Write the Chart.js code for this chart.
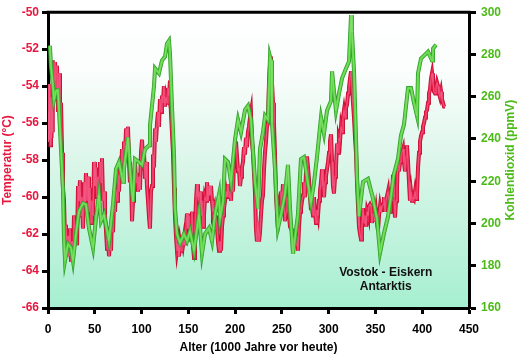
<!DOCTYPE html>
<html><head><meta charset="utf-8">
<script src="https://cdn.jsdelivr.net/npm/chart.js@4.4.1/dist/chart.umd.min.js"></script>
<style>html,body{margin:0;padding:0;background:#fff}#wrap{width:518px;height:355px}</style>
</head><body><div id="wrap"><canvas id="c" width="518" height="355"></canvas></div>
<script>
// Temperature (°C) vs age (ka)
const tempAge = [0.0,0.5,1.1,1.6,2.1,2.7,3.2,3.7,4.3,4.8,5.3,6.4,7.5,8.6,9.6,10.7,11.8,12.8,13.9,15.0,16.0,17.1,18.2,19.2,20.3,21.4,22.4,23.5,24.6,25.7,26.7,27.8,28.9,29.9,31.0,32.1,33.1,34.2,35.3,36.3,37.4,38.5,39.5,40.6,41.7,42.8,43.8,44.9,46.0,47.0,48.1,49.2,50.2,51.3,52.4,53.4,54.5,55.6,56.7,57.7,58.8,59.9,60.9,62.0,63.1,64.1,65.2,66.3,67.3,68.4,69.5,70.6,71.6,72.7,73.8,74.8,75.9,77.0,78.0,79.1,80.2,81.2,82.3,83.4,84.4,85.5,86.6,87.6,88.7,89.8,90.9,91.9,93.0,94.1,95.1,96.2,97.3,98.3,99.4,100.5,101.6,102.6,103.7,104.8,105.8,106.9,108.0,109.0,110.1,111.2,112.2,113.3,114.4,115.4,116.5,117.6,118.6,119.7,120.8,121.8,122.9,123.9,125.0,126.1,127.2,128.2,129.3,130.4,131.4,132.5,133.6,134.7,135.7,136.8,137.9,139.0,140.0,141.1,142.2,143.2,144.3,145.4,146.4,147.5,148.6,149.6,150.7,151.8,152.9,153.9,155.0,156.1,157.1,158.2,159.3,160.3,161.4,162.5,163.5,164.6,165.7,166.7,167.8,168.9,169.9,171.0,172.1,173.1,174.2,175.3,176.3,177.4,178.5,179.5,180.6,181.7,182.8,183.8,184.9,186.0,187.1,188.1,189.2,190.3,191.3,192.4,193.5,194.5,195.6,196.7,197.7,198.8,199.9,200.9,202.0,203.1,204.1,205.2,206.3,207.3,208.4,209.5,210.5,211.6,212.7,213.7,214.8,215.9,216.9,218.0,219.1,220.1,221.2,222.3,223.3,224.4,225.5,226.6,227.6,228.7,229.8,230.8,231.9,233.0,234.0,235.1,236.2,237.3,238.3,239.4,240.5,241.5,242.6,243.7,244.7,245.8,246.9,248.0,249.0,250.1,251.2,252.2,253.3,254.4,255.4,256.5,257.6,258.7,259.7,260.8,261.9,262.9,264.0,265.1,266.1,267.2,268.3,269.4,270.4,271.5,272.6,273.6,274.7,275.8,276.8,277.9,279.0,280.1,281.1,282.2,283.3,284.3,285.4,286.5,287.5,288.6,289.7,290.7,291.8,292.9,293.9,295.0,296.1,297.1,298.2,299.3,300.4,301.4,302.5,303.6,304.6,305.7,306.8,307.8,308.9,310.0,311.0,312.1,313.2,314.3,315.3,316.4,317.5,318.5,319.6,320.7,321.7,322.8,323.9,325.0,326.0,327.1,328.2,329.2,330.3,331.4,332.4,333.5,334.6,335.6,336.7,337.8,338.8,339.9,341.0,342.0,343.1,344.2,345.2,346.3,347.4,348.5,349.5,350.6,351.7,352.7,353.8,354.9,355.9,357.0,358.1,359.1,360.2,361.3,362.3,363.4,364.5,365.6,366.6,367.7,368.8,369.8,370.9,372.0,373.0,374.1,375.2,376.3,377.3,378.4,379.5,380.5,381.6,382.7,383.7,384.8,385.9,386.9,388.0,389.1,390.1,391.2,392.3,393.4,394.4,395.5,396.6,397.6,398.7,399.8,400.8,401.9,403.0,404.0,405.1,406.2,407.2,408.3,409.4,410.5,411.5,412.6,413.7,414.7,415.8,416.9,417.9,419.0,420.1,421.1,422.2,423.3,424.4];
const tempVal = [-55.4,-57.0,-53.9,-56.9,-54.3,-57.2,-54.6,-56.8,-54.9,-56.5,-52.6,-54.4,-52.7,-54.6,-52.9,-55.4,-53.3,-56.0,-54.9,-57.6,-59.5,-60.2,-62.4,-61.5,-62.9,-62.1,-63.2,-61.7,-63.5,-62.4,-63.3,-61.0,-62.4,-61.6,-62.6,-59.4,-60.2,-59.1,-61.0,-60.0,-61.7,-59.2,-60.5,-58.7,-60.2,-58.9,-60.8,-59.5,-61.4,-60.2,-61.0,-58.1,-59.4,-58.4,-60.0,-58.9,-60.2,-58.1,-59.2,-57.9,-60.2,-59.7,-61.0,-61.8,-62.8,-62.1,-63.2,-62.4,-62.9,-61.1,-61.9,-60.2,-60.8,-59.6,-60.2,-58.8,-59.7,-58.1,-58.9,-57.4,-58.4,-57.0,-57.8,-56.3,-57.6,-56.2,-58.1,-59.2,-58.6,-61.3,-60.2,-58.9,-58.1,-59.2,-58.7,-59.7,-58.9,-59.6,-57.6,-56.9,-58.1,-57.6,-59.0,-58.1,-59.4,-60.2,-61.1,-61.7,-59.7,-59.4,-57.7,-58.4,-56.3,-57.0,-56.0,-55.4,-56.2,-54.7,-55.4,-54.5,-54.9,-54.0,-55.1,-54.6,-54.9,-54.1,-54.5,-53.7,-55.4,-56.5,-57.6,-59.5,-61.0,-62.1,-62.9,-62.5,-63.2,-62.5,-62.9,-62.3,-62.6,-62.2,-62.6,-61.6,-60.9,-61.7,-61.0,-62.4,-61.6,-60.8,-62.6,-63.3,-61.8,-60.2,-59.3,-60.0,-60.2,-59.7,-61.0,-60.2,-61.6,-61.0,-60.0,-60.2,-59.2,-60.2,-59.4,-59.9,-59.4,-60.2,-60.8,-60.6,-61.8,-61.0,-61.6,-62.4,-62.9,-62.4,-62.9,-61.6,-61.0,-60.6,-60.2,-59.7,-60.0,-59.3,-60.0,-59.7,-60.2,-58.9,-59.7,-58.1,-57.3,-57.0,-57.8,-58.6,-58.4,-59.4,-58.9,-58.4,-58.1,-57.3,-57.7,-56.8,-57.3,-56.5,-56.2,-55.7,-55.4,-57.0,-57.6,-58.6,-59.7,-61.7,-62.4,-61.3,-62.4,-61.9,-61.0,-60.2,-59.9,-58.6,-57.6,-57.0,-56.2,-56.0,-53.8,-52.8,-52.4,-53.8,-54.9,-56.0,-57.6,-59.9,-60.8,-60.5,-61.0,-60.5,-59.7,-60.2,-59.3,-60.2,-61.3,-60.8,-60.0,-60.2,-61.0,-61.6,-61.7,-61.8,-62.3,-61.8,-62.4,-62.6,-62.1,-62.9,-61.6,-60.8,-60.6,-60.2,-59.9,-59.2,-60.0,-58.6,-57.8,-58.4,-59.1,-60.0,-60.7,-60.2,-61.0,-60.0,-60.8,-61.4,-60.7,-61.0,-60.2,-59.7,-59.2,-58.5,-59.4,-60.0,-59.2,-58.9,-58.5,-58.1,-57.6,-57.0,-56.6,-58.1,-59.4,-59.8,-58.9,-58.4,-57.1,-57.6,-56.8,-57.0,-56.2,-56.5,-55.7,-55.3,-55.7,-55.2,-55.0,-54.4,-54.1,-53.6,-53.2,-54.1,-54.9,-55.7,-56.8,-57.6,-59.2,-60.5,-61.6,-62.0,-62.3,-61.6,-60.6,-61.4,-61.0,-61.6,-60.8,-61.0,-60.5,-60.4,-60.5,-61.4,-60.9,-61.0,-61.3,-60.8,-61.4,-61.8,-61.0,-60.5,-60.8,-60.5,-60.4,-60.0,-60.8,-60.2,-60.2,-59.7,-60.5,-60.8,-59.5,-60.2,-58.8,-60.0,-61.1,-60.2,-59.5,-57.9,-58.6,-58.1,-57.8,-57.6,-57.4,-58.1,-58.6,-57.8,-57.2,-58.1,-59.2,-60.2,-59.7,-60.2,-60.0,-60.1,-59.7,-60.1,-59.9,-58.4,-57.6,-57.0,-56.7,-56.5,-56.2,-56.0,-55.7,-55.4,-55.3,-54.9,-54.4,-54.2,-53.6,-53.3,-53.8,-54.3,-54.4,-54.1,-53.8,-54.0,-54.4,-54.6,-54.3,-54.7,-54.9,-55.1,-55.1];

// CO2 (ppmV) vs age (ka)
const co2Age = [1.1,2.1,3.2,5.3,6.4,8.6,10.7,11.8,13.9,16.0,17.1,18.2,21.4,24.6,26.7,29.9,33.1,37.4,40.6,43.8,48.1,51.3,54.5,56.7,59.9,65.2,69.5,72.7,75.9,80.2,81.2,85.5,88.7,90.9,93.0,97.3,100.5,103.7,108.0,109.0,113.3,114.4,118.6,121.8,125.1,127.2,129.3,130.4,132.5,134.7,135.8,137.9,141.1,145.4,148.6,151.8,156.1,161.4,164.6,167.8,172.1,175.3,178.5,182.8,183.9,187.1,189.2,192.4,195.6,199.9,203.1,206.3,210.6,213.8,217.0,221.3,224.5,226.6,229.8,232.0,235.2,237.3,238.4,239.4,242.6,245.8,249.1,253.3,256.5,258.7,261.9,267.2,270.4,273.6,276.8,281.1,284.3,287.5,291.8,295.0,298.2,302.5,303.6,307.8,311.0,314.3,318.5,321.7,323.9,324.9,327.1,329.2,330.3,332.4,336.7,342.0,347.4,351.7,354.9,359.2,363.5,366.6,369.8,374.1,377.3,380.5,384.8,388.0,391.2,394.4,395.5,398.7,403.0,406.2,410.5,411.5,414.7];
const co2Val = [282.7,284.1,274.3,265.0,258.5,262.7,263.1,253.8,235.1,216.5,193.1,182.4,190.3,188.5,182.4,195.0,205.7,209.5,209.0,197.8,188.5,202.5,213.7,201.1,204.3,191.7,209.0,225.8,229.1,219.7,225.8,240.7,219.7,210.4,230.5,229.1,227.7,235.1,237.0,246.3,265.0,273.4,271.1,277.1,279.0,285.1,286.5,280.4,255.7,232.3,207.1,195.0,190.8,195.0,191.7,196.4,187.1,204.3,185.7,195.0,197.8,191.7,204.3,213.7,202.5,210.4,230.5,229.1,219.7,239.8,249.1,243.1,253.8,255.7,249.1,219.7,207.1,235.1,243.1,251.0,249.1,279.0,277.1,247.7,225.8,197.8,204.3,213.7,227.7,207.1,185.7,204.3,230.5,231.4,222.1,209.9,219.3,231.4,250.1,242.6,253.3,258.0,272.0,253.3,261.3,268.7,273.4,276.7,298.6,290.7,272.0,240.7,222.1,203.4,219.7,221.1,211.8,202.0,186.1,195.5,203.4,212.7,223.5,230.5,241.7,246.8,264.1,264.1,257.1,251.0,271.1,278.1,279.9,281.3,277.1,282.7,284.6];

const xTickValues = [0,50,100,150,200,250,300,350,400,450];
const tempTickValues = [-66,-64,-62,-60,-58,-56,-54,-52,-50];
const co2TickValues = [160,180,200,220,240,260,280,300];
const labelLines = ['Vostok - Eiskern','Antarktis'];

const pts = (a, v) => a.map((x, i) => ({x, y: v[i]}));
const FONT = 'Liberation Sans, Arial, Helvetica, sans-serif';
const RED = '#e8173f', GREEN = '#4cbb17';

function layer(data, axis, color, width, order) {
  return {data, yAxisID: axis, borderColor: color, borderWidth: width, pointRadius: 0,
    tension: 0, fill: false, order, borderJoinStyle: 'miter', borderCapStyle: 'butt'};
}
const tData = pts(tempAge, tempVal), cData = pts(co2Age, co2Val);

const bgPlugin = {
  id: 'bg',
  beforeDraw(chart) {
    const {ctx, chartArea: a} = chart;
    const g = ctx.createLinearGradient(0, a.top, 0, a.bottom);
    g.addColorStop(0, '#ffffff');
    g.addColorStop(0.22, '#f9fdfb');
    g.addColorStop(0.5, '#dcf6ea');
    g.addColorStop(1, '#a6efd0');
    ctx.save(); ctx.fillStyle = g; ctx.fillRect(a.left, a.top, a.right - a.left, a.bottom - a.top); ctx.restore();
  },
  afterDraw(chart) {
    const {ctx, chartArea: a, scales} = chart;
    ctx.save();
    ctx.strokeStyle = '#000'; ctx.lineWidth = 3;
    ctx.beginPath(); ctx.moveTo(a.left - 1.5, a.top); ctx.lineTo(a.right + 1.5, a.top); ctx.stroke();
    ctx.fillStyle = GREEN; ctx.font = 'bold 12px ' + FONT;
    ctx.textAlign = 'center'; ctx.textBaseline = 'middle';
    ctx.translate(chart.width - 7.5, (a.top + a.bottom) / 2);
    ctx.rotate(-Math.PI / 2);
    ctx.fillText('Kohlendioxid (ppmV)', 0, 0);
    ctx.restore();
    ctx.save();
    ctx.fillStyle = '#111'; ctx.font = 'bold 12px ' + FONT; ctx.textAlign = 'center'; ctx.textBaseline = 'middle';
    const cx = scales.x.getPixelForValue(361);
    ctx.fillText(labelLines[0], cx, scales.y.getPixelForValue(-64.1));
    ctx.fillText(labelLines[1], cx, scales.y.getPixelForValue(-64.85));
    ctx.restore();
  }
};

new Chart(document.getElementById('c'), {
  type: 'line',
  data: {datasets: [
    layer(tData, 'y', '#c20c30', 4.0, 6),
    layer(tData, 'y', '#ea2450', 2.6, 5),
    layer(tData, 'y', '#f25a86', 0.9, 4),
    layer(cData, 'y2', '#2e9c28', 4.0, 3),
    layer(cData, 'y2', '#5cd246', 2.6, 2),
    layer(cData, 'y2', '#86e06e', 0.9, 1)
  ]},
  options: {
    responsive: false, animation: false, devicePixelRatio: 1,
    layout: {padding: {top: 8, left: 0, right: 0, bottom: 0}},
    plugins: {legend: {display: false}, tooltip: {enabled: false}},
    scales: {
      x: {type: 'linear', min: 0, max: 450,
        afterBuildTicks: s => { s.ticks = xTickValues.map(v => ({value: v})); },
        afterFit: s => { s.height = 47; },
        grid: {drawOnChartArea: false, drawTicks: true, tickLength: 6, tickWidth: 3, color: '#000'},
        border: {display: true, width: 3, color: '#000'},
        ticks: {color: '#000', font: {family: FONT, size: 12, weight: 'bold'}, padding: 8, maxRotation: 0},
        title: {display: true, text: 'Alter (1000 Jahre vor heute)', color: '#000', padding: {top: 0, bottom: 0},
          font: {family: FONT, size: 12, weight: 'bold'}}
      },
      y: {type: 'linear', position: 'left', min: -66, max: -50,
        afterBuildTicks: s => { s.ticks = tempTickValues.map(v => ({value: v})); },
        afterFit: s => { s.width = 48; },
        grid: {drawOnChartArea: false, drawTicks: true, tickLength: 6, tickWidth: 3, color: '#000'},
        border: {display: true, width: 3, color: '#000'},
        ticks: {color: RED, font: {family: FONT, size: 12, weight: 'bold'}, padding: 3},
        title: {display: true, text: 'Temperatur (°C)', color: RED, padding: {top: 0, bottom: 0},
          font: {family: FONT, size: 12, weight: 'bold'}}
      },
      y2: {type: 'linear', position: 'right', min: 160, max: 300,
        afterBuildTicks: s => { s.ticks = co2TickValues.map(v => ({value: v})); },
        afterFit: s => { s.width = 49; },
        grid: {drawOnChartArea: false, drawTicks: true, tickLength: 7, tickWidth: 3, color: '#000'},
        border: {display: true, width: 3, color: '#000'},
        ticks: {color: GREEN, font: {family: FONT, size: 12, weight: 'bold'}, padding: 5}
      }
    }
  },
  plugins: [bgPlugin]
});
</script></body></html>
